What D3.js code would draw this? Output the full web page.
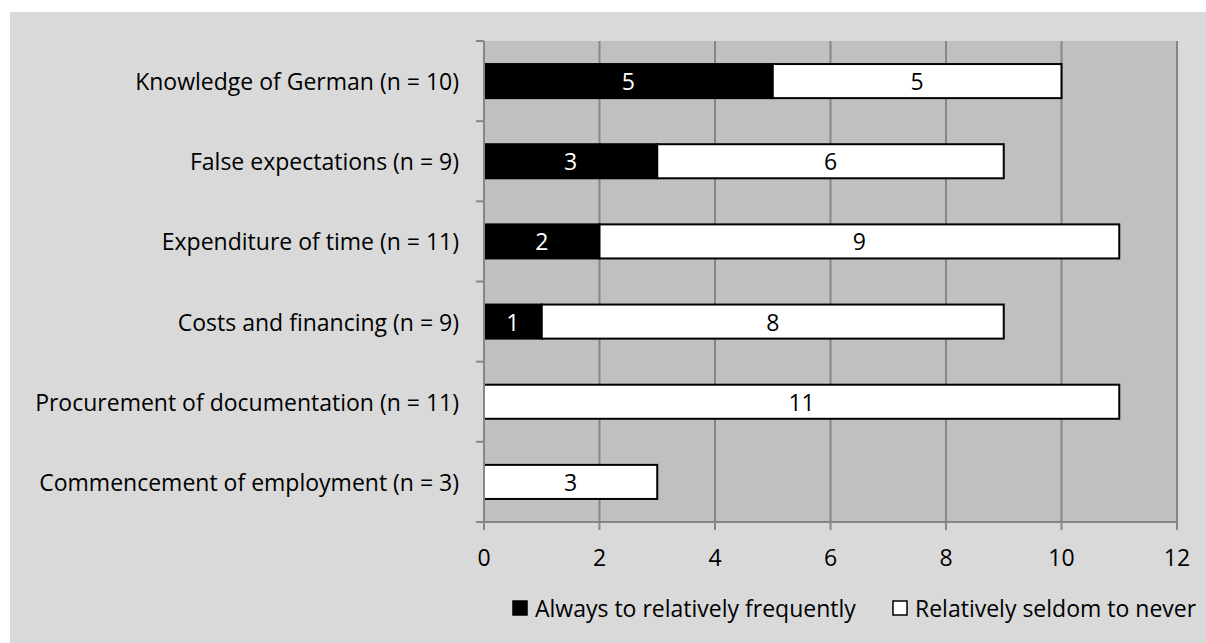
<!DOCTYPE html>
<html><head><meta charset="utf-8">
<script src="https://cdn.jsdelivr.net/npm/d3@7"></script>
<style>
html,body{margin:0;padding:0;background:#fff;}
svg text{font-family:"Open Sans",sans-serif;fill:#000;}
</style></head>
<body>
<svg id="c" width="1206" height="643"></svg>
<script>
const categories = [
  "Knowledge of German (n = 10)",
  "False expectations (n = 9)",
  "Expenditure of time (n = 11)",
  "Costs and financing (n = 9)",
  "Procurement of documentation (n = 11)",
  "Commencement of employment (n = 3)"
];
const seriesNames = ["Always to relatively frequently", "Relatively seldom to never"];
const frequent = [5, 3, 2, 1, 0, 0];
const seldom = [5, 6, 9, 8, 11, 3];
const xTicks = [0, 2, 4, 6, 8, 10, 12];

const svg = d3.select("#c");
const fs = 23;
svg.append("rect").attr("x",10).attr("y",12).attr("width",1196).attr("height",631).attr("fill","#d9d9d9");

const m = {left:484, right:1177, top:41, bottom:522};
const x = d3.scaleLinear().domain([0,12]).range([m.left, m.right]);
const y = d3.scaleBand().domain(categories).range([m.top, m.bottom]).paddingInner(0.575).paddingOuter(0.2875);

svg.append("rect").attr("x",m.left).attr("y",m.top).attr("width",m.right-m.left).attr("height",m.bottom-m.top).attr("fill","#c0c0c0");

// gridlines
svg.append("g").selectAll("line").data(xTicks.slice(1)).join("line")
  .attr("x1",d=>x(d)).attr("x2",d=>x(d)).attr("y1",m.top).attr("y2",m.bottom)
  .attr("stroke","#868686").attr("stroke-width",2);

const data = categories.map((c,i)=>({c, a:frequent[i], b:seldom[i]}));
const stack = d3.stack().keys(["a","b"])(data);
const fills = ["#000000","#ffffff"];

stack.forEach((s,si)=>{
  const g = svg.append("g");
  g.selectAll("rect").data(s.filter(d=>d[1]-d[0]>0)).join("rect")
    .attr("x",d=>x(d[0])).attr("y",d=>y(d.data.c))
    .attr("width",d=>x(d[1])-x(d[0])).attr("height",y.bandwidth())
    .attr("fill",fills[si]).attr("stroke","#000").attr("stroke-width",2);
  g.selectAll("text").data(s.filter(d=>d[1]-d[0]>0)).join("text")
    .attr("x",d=>(x(d[0])+x(d[1]))/2).attr("y",d=>y(d.data.c)+y.bandwidth()/2)
    .attr("text-anchor","middle").attr("dominant-baseline","central")
    .style("font-size",fs+"px").style("fill",si===0?"#fff":"#000")
    .text(d=>d[1]-d[0]);
});

// y axis
const ya = svg.append("g");
ya.append("line").attr("x1",m.left).attr("x2",m.left).attr("y1",m.top).attr("y2",m.bottom).attr("stroke","#868686").attr("stroke-width",2);
const bounds = d3.range(categories.length+1).map(i=>m.top + i*(m.bottom-m.top)/categories.length);
ya.selectAll("line.t").data(bounds).join("line").attr("class","t")
  .attr("x1",m.left-8).attr("x2",m.left).attr("y1",d=>d).attr("y2",d=>d).attr("stroke","#868686").attr("stroke-width",2);
ya.selectAll("text").data(categories).join("text")
  .attr("x",459).attr("y",d=>y(d)+y.bandwidth()/2).attr("text-anchor","end").attr("dominant-baseline","central")
  .style("font-size",fs+"px").text(d=>d);

// x axis
const xa = svg.append("g");
xa.append("line").attr("x1",m.left-8).attr("x2",m.right).attr("y1",m.bottom).attr("y2",m.bottom).attr("stroke","#868686").attr("stroke-width",2);
xa.selectAll("line.t").data(xTicks).join("line").attr("class","t")
  .attr("x1",d=>x(d)).attr("x2",d=>x(d)).attr("y1",m.bottom).attr("y2",m.bottom+8).attr("stroke","#868686").attr("stroke-width",2);
xa.selectAll("text").data(xTicks).join("text")
  .attr("x",d=>x(d)).attr("y",557).attr("text-anchor","middle").attr("dominant-baseline","central")
  .style("font-size",fs+"px").text(d=>d);

// legend
const lg = svg.append("g");
const lx = [512, 892];
seriesNames.forEach((n,i)=>{
  lg.append("rect").attr("x",lx[i]+1).attr("y",601).attr("width",14).attr("height",14)
    .attr("fill",fills[i]).attr("stroke","#000").attr("stroke-width",1.5);
  lg.append("text").attr("x",lx[i]+23).attr("y",608).attr("dominant-baseline","central")
    .style("font-size",fs+"px").text(n);
});
</script>
</body></html>
